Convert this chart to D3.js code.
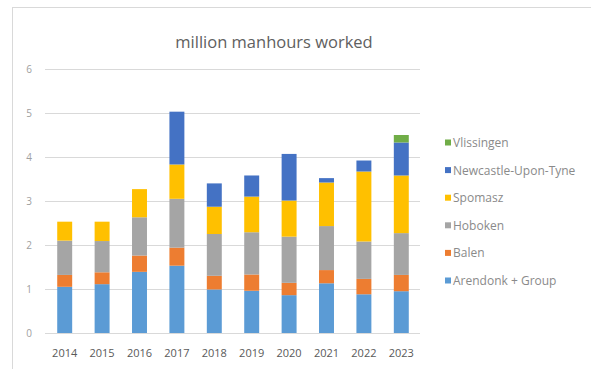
<!DOCTYPE html>
<html>
<head>
<meta charset="utf-8">
<script src="https://cdn.jsdelivr.net/npm/d3@7"></script>
<style>
  html, body { margin: 0; padding: 0; background: #fff; }
  svg { display: block; }
</style>
</head>
<body>
<svg id="chart" width="591" height="369"></svg>
<script>
// Yearly manhours (millions) per site, stacked bottom to top
const years = ["2014","2015","2016","2017","2018","2019","2020","2021","2022","2023"];
const arendonk  = [1.05, 1.11, 1.39, 1.53, 0.99, 0.96, 0.86, 1.13, 0.88, 0.95];
const balen     = [0.27, 0.27, 0.37, 0.41, 0.31, 0.37, 0.28, 0.30, 0.35, 0.37];
const hoboken   = [0.78, 0.71, 0.87, 1.11, 0.95, 0.96, 1.05, 1.00, 0.85, 0.95];
const spomasz   = [0.43, 0.44, 0.64, 0.78, 0.62, 0.81, 0.82, 0.99, 1.59, 1.31];
const newcastle = [0.00, 0.00, 0.00, 1.20, 0.53, 0.48, 1.06, 0.10, 0.25, 0.75];
const vlissingen= [0.00, 0.00, 0.00, 0.00, 0.00, 0.00, 0.00, 0.00, 0.00, 0.17];

const seriesNames = ["Arendonk + Group","Balen","Hoboken","Spomasz","Newcastle-Upon-Tyne","Vlissingen"];
const seriesValues = [arendonk, balen, hoboken, spomasz, newcastle, vlissingen];
const seriesColors = ["#5b9bd5","#ed7d31","#a5a5a5","#ffc000","#4472c4","#70ad47"];
const yTicks = [0,1,2,3,4,5,6];
const title = "million manhours worked";

const svg = d3.select("#chart");
const font = "'Open Sans', 'Liberation Sans', sans-serif";

// chart frame
svg.append("rect")
  .attr("x", 12.5).attr("y", 7.5)
  .attr("width", 600).attr("height", 400)
  .attr("fill", "#fff").attr("stroke", "#d9d9d9");

const rows = years.map((y, i) => {
  const r = { year: y };
  seriesNames.forEach((n, k) => r[n] = seriesValues[k][i]);
  return r;
});
const stacked = d3.stack().keys(seriesNames)(rows);

const x = d3.scaleBand().domain(years).range([46, 420]).paddingInner(0.6).paddingOuter(0.3);
const y = d3.scaleLinear().domain([0, 6]).range([333, 69]);

// gridlines
svg.append("g").selectAll("line").data(yTicks.filter(t => t > 0)).join("line")
  .attr("x1", 45).attr("x2", 420)
  .attr("y1", d => y(d) + 0.5).attr("y2", d => y(d) + 0.5)
  .attr("stroke", "#d9d9d9").attr("stroke-width", 1);

// y tick labels
svg.append("g").selectAll("text").data(yTicks).join("text")
  .attr("x", 32).attr("y", d => y(d) + 3.5)
  .attr("text-anchor", "end")
  .attr("font-family", font).attr("font-size", 10)
  .attr("fill", "#a0a0a0")
  .text(d => d);

// stacked bars
svg.append("g").selectAll("g").data(stacked).join("g")
  .attr("fill", (d, i) => seriesColors[i])
  .selectAll("rect").data(d => d).join("rect")
  .attr("x", d => x(d.data.year))
  .attr("width", x.bandwidth())
  .attr("y", d => y(d[1]))
  .attr("height", d => Math.max(0, y(d[0]) - y(d[1])));

// x axis line
svg.append("line")
  .attr("x1", 45).attr("x2", 420).attr("y1", 333.5).attr("y2", 333.5)
  .attr("stroke", "#d9d9d9");

// x labels
svg.append("g").selectAll("text").data(years).join("text")
  .attr("x", d => x(d) + x.bandwidth() / 2)
  .attr("y", 357)
  .attr("text-anchor", "middle")
  .attr("font-family", font).attr("font-size", 11)
  .attr("fill", "#595959")
  .text(d => d);

// title
svg.append("text")
  .attr("x", 274).attr("y", 48)
  .attr("text-anchor", "middle")
  .attr("font-family", font).attr("font-size", 16.5)
  .attr("fill", "#606060")
  .text(title);

// legend, top entry is the last series
const legendOrder = seriesNames.map((n, i) => i).reverse();
const leg = svg.append("g").selectAll("g").data(legendOrder).join("g")
  .attr("transform", (d, j) => `translate(445, ${142.5 + j * 27.6})`);
leg.append("rect")
  .attr("x", 0).attr("y", -3).attr("width", 6).attr("height", 6)
  .attr("fill", d => seriesColors[d]);
leg.append("text")
  .attr("x", 8).attr("y", 4.5)
  .attr("font-family", font).attr("font-size", 12)
  .attr("fill", "#8a8a8a")
  .text(d => seriesNames[d]);
</script>
</body>
</html>
